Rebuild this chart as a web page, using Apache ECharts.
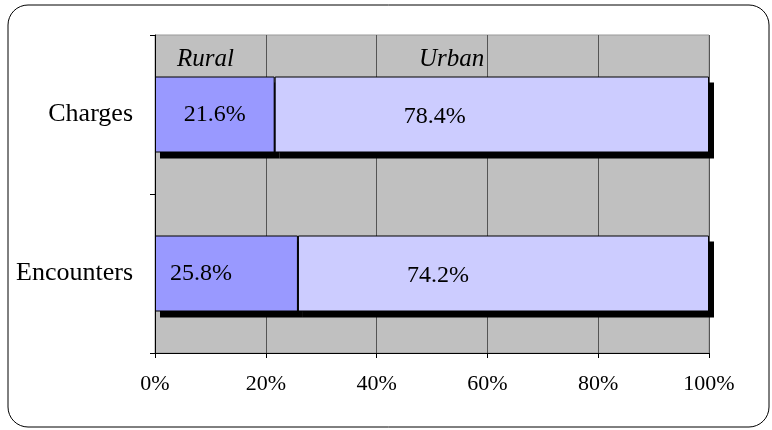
<!DOCTYPE html>
<html>
<head>
<meta charset="utf-8">
<script src="https://cdn.jsdelivr.net/npm/echarts@6/dist/echarts.min.js"></script>
<style>
  html, body { margin: 0; padding: 0; background: #fff; }
  #chart { width: 772px; height: 430px; }
</style>
</head>
<body>
<div id="chart"></div>
<script>
const categories = ['Charges', 'Encounters']
const rural = [21.6, 25.8]
const urban = [78.4, 74.2]
const xTicks = [0, 20, 40, 60, 80, 100]

const FONT = '"Liberation Serif", "Times New Roman", serif'
const myChart = echarts.init(document.getElementById('chart'))

// the drop shadow is a black copy of the stack on a grid shifted a few px
const SH_X = 5
const SH_Y = 6
const hiddenAxis = {
  show: false,
  axisLine: { show: false },
  axisTick: { show: false },
  axisLabel: { show: false },
  splitLine: { show: false }
}

let option = {
  animation: false,
  graphic: [
    {
      type: 'rect',
      shape: { x: 8, y: 5, width: 761, height: 422, r: 20 },
      style: { fill: 'none', stroke: '#000', lineWidth: 1 },
      z: -10
    }
  ],
  grid: [
    {
      left: 155,
      right: 63,
      top: 35,
      bottom: 77,
      show: true,
      backgroundColor: '#c0c0c0',
      borderColor: '#999',
      borderWidth: 1
    },
    {
      left: 155 + SH_X,
      right: 63 - SH_X,
      top: 35 + SH_Y,
      bottom: 77 - SH_Y,
      show: false
    }
  ],
  legend: [
    {
      data: ['Rural'],
      left: 166,
      top: 42,
      itemWidth: 0,
      itemHeight: 0,
      textStyle: { fontFamily: FONT, fontSize: 25, fontStyle: 'italic', color: '#000' }
    },
    {
      data: ['Urban'],
      left: 408,
      top: 42,
      itemWidth: 0,
      itemHeight: 0,
      textStyle: { fontFamily: FONT, fontSize: 25, fontStyle: 'italic', color: '#000' }
    }
  ],
  xAxis: [
    {
      type: 'value',
      gridIndex: 0,
      min: xTicks[0],
      max: xTicks[xTicks.length - 1],
      interval: 20,
      axisLine: { show: true, lineStyle: { color: '#000', width: 1 } },
      axisTick: { show: true, length: 5, lineStyle: { color: '#000' } },
      axisLabel: {
        formatter: '{value}%',
        margin: 20,
        fontFamily: FONT,
        fontSize: 22,
        color: '#000'
      },
      splitLine: { show: true, lineStyle: { color: '#555', width: 1 } }
    },
    Object.assign({ type: 'value', gridIndex: 1, min: 0, max: 100 }, hiddenAxis)
  ],
  yAxis: [
    {
      type: 'category',
      gridIndex: 0,
      data: categories,
      inverse: true,
      axisLine: { show: true, lineStyle: { color: '#000', width: 1 } },
      axisTick: { show: true, length: 5, lineStyle: { color: '#000' } },
      axisLabel: {
        margin: 22,
        fontFamily: FONT,
        fontSize: 26,
        color: '#000'
      },
      splitLine: { show: false }
    },
    Object.assign({ type: 'category', gridIndex: 1, data: categories, inverse: true }, hiddenAxis)
  ],
  series: [
    {
      name: 'shadowRural',
      type: 'bar',
      xAxisIndex: 1,
      yAxisIndex: 1,
      stack: 'shadow',
      barWidth: 76,
      z: 1,
      silent: true,
      data: rural,
      itemStyle: { color: '#000' }
    },
    {
      name: 'shadowUrban',
      type: 'bar',
      xAxisIndex: 1,
      yAxisIndex: 1,
      stack: 'shadow',
      barWidth: 76,
      z: 1,
      silent: true,
      data: urban,
      itemStyle: { color: '#000' }
    },
    {
      name: 'Rural',
      type: 'bar',
      stack: 'total',
      barWidth: 76,
      z: 3,
      data: rural.map((v, i) => ({
        value: v,
        label: i === 1 ? { position: 'insideLeft', distance: 15 } : { position: 'inside' }
      })),
      itemStyle: { color: '#9999ff', borderColor: '#000', borderWidth: 1 },
      label: {
        show: true,
        formatter: '{c}%',
        fontFamily: FONT,
        fontSize: 24,
        color: '#000'
      }
    },
    {
      name: 'Urban',
      type: 'bar',
      stack: 'total',
      barWidth: 76,
      z: 3,
      data: urban.map((v, i) => ({
        value: v,
        label: { position: [i === 0 ? 160 : 140, '53%'] }
      })),
      itemStyle: { color: '#ccccff', borderColor: '#000', borderWidth: 1 },
      label: {
        show: true,
        formatter: '{c}%',
        align: 'center',
        verticalAlign: 'middle',
        fontFamily: FONT,
        fontSize: 24,
        color: '#000'
      }
    }
  ]
}
myChart.setOption(option)
window.addEventListener('resize', () => {
  myChart.resize()
})
</script>
</body>
</html>
